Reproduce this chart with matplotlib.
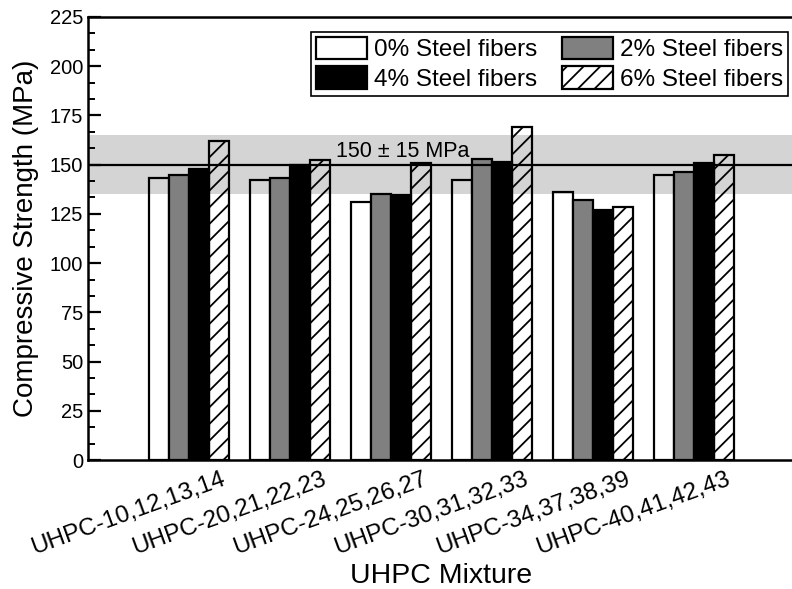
import matplotlib
matplotlib.use("Agg")
import matplotlib.pyplot as plt
import matplotlib.transforms as mtransforms
from matplotlib.ticker import MultipleLocator, AutoMinorLocator
import numpy as np

plt.rcParams['font.family'] = ['Liberation Sans', 'DejaVu Sans']
plt.rcParams['hatch.linewidth'] = 1.3

# данные
mixtures = ["UHPC-10,12,13,14", "UHPC-20,21,22,23", "UHPC-24,25,26,27",
            "UHPC-30,31,32,33", "UHPC-34,37,38,39", "UHPC-40,41,42,43"]
fiber_labels = ["0% Steel fibers", "2% Steel fibers", "4% Steel fibers", "6% Steel fibers"]
fiber_0 = [143, 142, 131, 142, 136, 144.5]
fiber_2 = [144.5, 143, 135, 153, 132, 146.5]
fiber_4 = [148, 150, 134.5, 151.5, 127, 151]
fiber_6 = [162, 152.5, 151, 169, 128.5, 155]
target = 150
tolerance = 15

fig = plt.figure(figsize=(7.92, 5.89), dpi=100)
ax = fig.add_axes([88 / 792, 129 / 589, 707 / 792, 443 / 589])

x = np.arange(1, len(mixtures) + 1)
w = 0.2
styles = [dict(facecolor='none'), dict(facecolor='#808080'), dict(facecolor='black'),
          dict(facecolor='none', hatch='//')]
bars = []
for i, (vals, st) in enumerate(zip([fiber_0, fiber_2, fiber_4, fiber_6], styles)):
    b = ax.bar(x + (i - 1.5) * w, vals, w, edgecolor='black', linewidth=1.6,
               label=fiber_labels[i], zorder=2, **st)
    bars.append(b)

# полоса 150 ± 15 МПа
ax.axhspan(target - tolerance, target + tolerance, color='#d4d4d4', lw=0, zorder=1)
ax.axhline(target, color='black', lw=1.6, zorder=3)
ax.text(3.12, target + 1.5, "150 ± 15 MPa", ha='center', va='bottom', fontsize=15.5)

ax.set_xlim(0, 7)
ax.set_ylim(0, 225)
ax.yaxis.set_major_locator(MultipleLocator(25))
ax.yaxis.set_minor_locator(AutoMinorLocator(3))
ax.tick_params(axis='y', which='major', direction='in', length=9, width=1.6,
               labelsize=14.5, right=False)
ax.tick_params(axis='y', which='minor', direction='in', length=5, width=1.4)
ax.tick_params(axis='x', length=0, labelsize=17.5, pad=6)
ax.set_xticks(x)
ax.set_xticklabels(mixtures, rotation=20, ha='right', rotation_mode='anchor')
offset = mtransforms.ScaledTranslation(0.32, 0, fig.dpi_scale_trans)
for lbl in ax.get_xticklabels():
    lbl.set_transform(lbl.get_transform() + offset)
for sp in ax.spines.values():
    sp.set_linewidth(1.8)

ax.set_ylabel("Compressive Strength (MPa)", fontsize=20, labelpad=8)
ax.set_xlabel("UHPC Mixture", fontsize=20.5, labelpad=3)

handles = [bars[0], bars[2], bars[1], bars[3]]
labels = [fiber_labels[0], fiber_labels[2], fiber_labels[1], fiber_labels[3]]
leg = ax.legend(handles, labels, ncol=2, loc='upper right',
                bbox_to_anchor=(788 / 792, 1 - 32 / 589), bbox_transform=fig.transFigure,
                fontsize=17.5, frameon=True, fancybox=False, edgecolor='black',
                facecolor='white', framealpha=1,
                borderpad=0.2, handlelength=2.1, handleheight=1.05, handletextpad=0.3,
                columnspacing=1.0, labelspacing=0.2, borderaxespad=0)
leg.get_frame().set_linewidth(1.2)
leg.set_zorder(5)

fig.savefig("out.png", dpi=100)
